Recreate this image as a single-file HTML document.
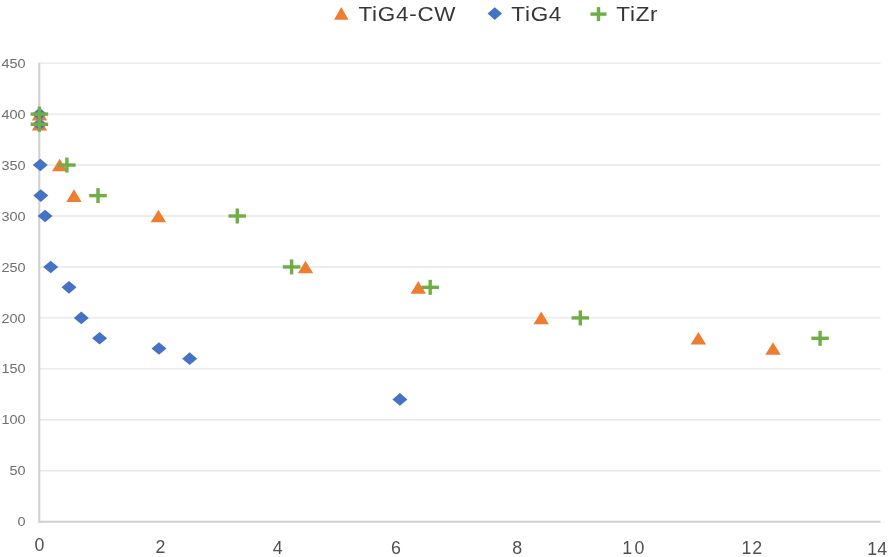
<!DOCTYPE html>
<html><head><meta charset="utf-8"><title>Scatter chart</title>
<style>
html,body{margin:0;padding:0;background:#fff;}
body{width:895px;height:557px;overflow:hidden;position:relative;}
svg{position:absolute;left:0;top:0;font-family:"Liberation Sans",sans-serif;filter:blur(0.6px);}
</style></head><body>
<svg width="895" height="557" viewBox="0 0 895 557">
<rect width="895" height="557" fill="#fff"/>
<line x1="39.30" y1="470.75" x2="880.50" y2="470.75" stroke="#E7E7E7" stroke-width="1.4"/>
<line x1="39.30" y1="419.80" x2="880.50" y2="419.80" stroke="#E7E7E7" stroke-width="1.4"/>
<line x1="39.30" y1="368.85" x2="880.50" y2="368.85" stroke="#E7E7E7" stroke-width="1.4"/>
<line x1="39.30" y1="317.90" x2="880.50" y2="317.90" stroke="#E7E7E7" stroke-width="1.4"/>
<line x1="39.30" y1="266.95" x2="880.50" y2="266.95" stroke="#E7E7E7" stroke-width="1.4"/>
<line x1="39.30" y1="216.00" x2="880.50" y2="216.00" stroke="#E7E7E7" stroke-width="1.4"/>
<line x1="39.30" y1="165.05" x2="880.50" y2="165.05" stroke="#E7E7E7" stroke-width="1.4"/>
<line x1="39.30" y1="114.10" x2="880.50" y2="114.10" stroke="#E7E7E7" stroke-width="1.4"/>
<line x1="39.30" y1="63.15" x2="880.50" y2="63.15" stroke="#E7E7E7" stroke-width="1.4"/>
<line x1="39.30" y1="62.65" x2="39.30" y2="522.50" stroke="#CFCFCF" stroke-width="2"/>
<line x1="38.50" y1="521.70" x2="880.50" y2="521.70" stroke="#CFCFCF" stroke-width="2"/>
<text transform="translate(25.60 526.30) scale(1.08 1)" text-anchor="end" font-size="13.4" fill="#6E6E6E">0</text>
<text transform="translate(25.60 475.35) scale(1.08 1)" text-anchor="end" font-size="13.4" fill="#6E6E6E">50</text>
<text transform="translate(25.60 424.40) scale(1.08 1)" text-anchor="end" font-size="13.4" fill="#6E6E6E">100</text>
<text transform="translate(25.60 373.45) scale(1.08 1)" text-anchor="end" font-size="13.4" fill="#6E6E6E">150</text>
<text transform="translate(25.60 322.50) scale(1.08 1)" text-anchor="end" font-size="13.4" fill="#6E6E6E">200</text>
<text transform="translate(25.60 271.55) scale(1.08 1)" text-anchor="end" font-size="13.4" fill="#6E6E6E">250</text>
<text transform="translate(25.60 220.60) scale(1.08 1)" text-anchor="end" font-size="13.4" fill="#6E6E6E">300</text>
<text transform="translate(25.60 169.65) scale(1.08 1)" text-anchor="end" font-size="13.4" fill="#6E6E6E">350</text>
<text transform="translate(25.60 118.70) scale(1.08 1)" text-anchor="end" font-size="13.4" fill="#6E6E6E">400</text>
<text transform="translate(25.60 67.75) scale(1.08 1)" text-anchor="end" font-size="13.4" fill="#6E6E6E">450</text>
<text transform="translate(39.50 551.02) scale(1.0 1)" text-anchor="middle" font-size="17.8" letter-spacing="0" fill="#505050">0</text>
<text transform="translate(160.50 553.07) scale(1.0 1)" text-anchor="middle" font-size="17.8" letter-spacing="0" fill="#505050">2</text>
<text transform="translate(277.60 553.82) scale(1.0 1)" text-anchor="middle" font-size="17.8" letter-spacing="0" fill="#505050">4</text>
<text transform="translate(396.00 554.17) scale(1.0 1)" text-anchor="middle" font-size="17.8" letter-spacing="0" fill="#505050">6</text>
<text transform="translate(517.10 554.07) scale(1.0 1)" text-anchor="middle" font-size="17.8" letter-spacing="0" fill="#505050">8</text>
<text transform="translate(634.40 553.97) scale(1.0 1)" text-anchor="middle" font-size="17.8" letter-spacing="2.2" fill="#505050">10</text>
<text transform="translate(752.30 553.82) scale(1.0 1)" text-anchor="middle" font-size="17.8" letter-spacing="1.0" fill="#505050">12</text>
<text transform="translate(877.30 554.82) scale(1.0 1)" text-anchor="middle" font-size="17.8" letter-spacing="0.2" fill="#505050">14</text>
<path d="M31.80 120.40L39.50 107.80L47.20 120.40Z" fill="#ED7D31"/>
<path d="M31.80 130.59L39.50 117.99L47.20 130.59Z" fill="#ED7D31"/>
<path d="M52.00 171.35L59.70 158.75L67.40 171.35Z" fill="#ED7D31"/>
<path d="M66.30 201.92L74.00 189.32L81.70 201.92Z" fill="#ED7D31"/>
<path d="M150.70 222.30L158.40 209.70L166.10 222.30Z" fill="#ED7D31"/>
<path d="M297.80 273.25L305.50 260.65L313.20 273.25Z" fill="#ED7D31"/>
<path d="M410.60 293.63L418.30 281.03L426.00 293.63Z" fill="#ED7D31"/>
<path d="M533.50 324.20L541.20 311.60L548.90 324.20Z" fill="#ED7D31"/>
<path d="M690.70 344.58L698.40 331.98L706.10 344.58Z" fill="#ED7D31"/>
<path d="M765.30 354.77L773.00 342.17L780.70 354.77Z" fill="#ED7D31"/>
<path d="M32.00 114.10L39.50 107.80L47.00 114.10L39.50 120.40Z" fill="#4472C4"/>
<path d="M32.00 124.29L39.50 117.99L47.00 124.29L39.50 130.59Z" fill="#4472C4"/>
<path d="M32.80 165.05L40.30 158.75L47.80 165.05L40.30 171.35Z" fill="#4472C4"/>
<path d="M33.30 195.62L40.80 189.32L48.30 195.62L40.80 201.92Z" fill="#4472C4"/>
<path d="M37.60 216.00L45.10 209.70L52.60 216.00L45.10 222.30Z" fill="#4472C4"/>
<path d="M43.20 266.95L50.70 260.65L58.20 266.95L50.70 273.25Z" fill="#4472C4"/>
<path d="M61.50 287.33L69.00 281.03L76.50 287.33L69.00 293.63Z" fill="#4472C4"/>
<path d="M73.80 317.90L81.30 311.60L88.80 317.90L81.30 324.20Z" fill="#4472C4"/>
<path d="M92.10 338.28L99.60 331.98L107.10 338.28L99.60 344.58Z" fill="#4472C4"/>
<path d="M151.50 348.47L159.00 342.17L166.50 348.47L159.00 354.77Z" fill="#4472C4"/>
<path d="M182.20 358.66L189.70 352.36L197.20 358.66L189.70 364.96Z" fill="#4472C4"/>
<path d="M392.40 399.42L399.90 393.12L407.40 399.42L399.90 405.72Z" fill="#4472C4"/>
<rect x="30.65" y="112.40" width="17.50" height="3.40" fill="#70AD47"/><rect x="37.70" y="106.60" width="3.40" height="15.00" fill="#70AD47"/>
<rect x="30.65" y="122.59" width="17.50" height="3.40" fill="#70AD47"/><rect x="37.70" y="116.79" width="3.40" height="15.00" fill="#70AD47"/>
<rect x="58.15" y="163.35" width="17.50" height="3.40" fill="#70AD47"/><rect x="65.20" y="157.55" width="3.40" height="15.00" fill="#70AD47"/>
<rect x="89.25" y="193.92" width="17.50" height="3.40" fill="#70AD47"/><rect x="96.30" y="188.12" width="3.40" height="15.00" fill="#70AD47"/>
<rect x="228.55" y="214.30" width="17.50" height="3.40" fill="#70AD47"/><rect x="235.60" y="208.50" width="3.40" height="15.00" fill="#70AD47"/>
<rect x="282.85" y="265.25" width="17.50" height="3.40" fill="#70AD47"/><rect x="289.90" y="259.45" width="3.40" height="15.00" fill="#70AD47"/>
<rect x="421.45" y="285.63" width="17.50" height="3.40" fill="#70AD47"/><rect x="428.50" y="279.83" width="3.40" height="15.00" fill="#70AD47"/>
<rect x="571.55" y="316.20" width="17.50" height="3.40" fill="#70AD47"/><rect x="578.60" y="310.40" width="3.40" height="15.00" fill="#70AD47"/>
<rect x="811.35" y="336.58" width="17.50" height="3.40" fill="#70AD47"/><rect x="818.40" y="330.78" width="3.40" height="15.00" fill="#70AD47"/>
<path d="M334.05 19.70L341.30 6.90L348.55 19.70Z" fill="#ED7D31"/>
<text transform="translate(358.4 21.2) scale(1.1 1)" font-size="20.4" letter-spacing="0.68" fill="#363636">TiG4-CW</text>
<path d="M487.55 13.60L494.80 7.20L502.05 13.60L494.80 20.00Z" fill="#4472C4"/>
<text transform="translate(511.3 21.2) scale(1.1 1)" font-size="20.4" letter-spacing="0.68" fill="#363636">TiG4</text>
<rect x="590.50" y="12.40" width="16.00" height="3.40" fill="#70AD47"/><rect x="596.80" y="7.10" width="3.40" height="14.00" fill="#70AD47"/>
<text transform="translate(616.3 21.2) scale(1.1 1)" font-size="20.4" letter-spacing="0.68" fill="#363636">TiZr</text>
</svg>
</body></html>
